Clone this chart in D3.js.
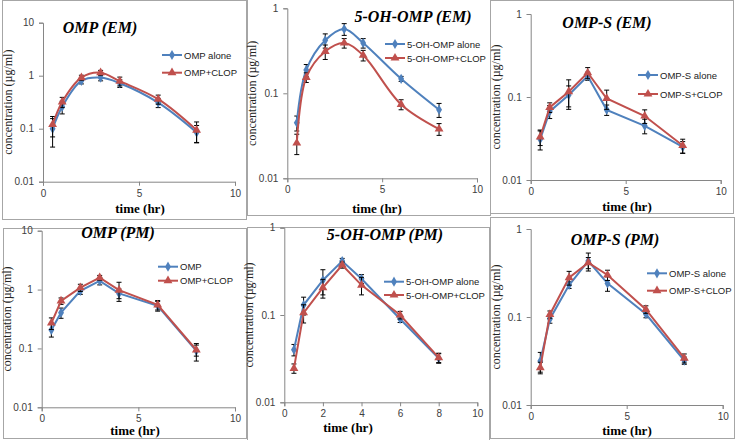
<!DOCTYPE html>
<html>
<head>
<meta charset="utf-8">
<script src="https://cdn.jsdelivr.net/npm/d3@7/dist/d3.min.js"></script>
<style>
  body { margin: 0; background: #fff; }
  svg { display: block; }
</style>
</head>
<body>
<div id="chart"></div>
<script>
// ---------- data (sampling times, hr) ----------
var times = [0.5, 1, 2, 3, 4, 6, 8];

// OMP (EM)
var ompEmAlone = [0.10, 0.26, 0.80, 0.92, 0.72, 0.31, 0.085];
var ompEmAloneErr = [0.055, 0.07, 0.1, 0.12, 0.12, 0.06, 0.03];
var ompEmClop = [0.12, 0.32, 0.92, 1.14, 0.79, 0.36, 0.094];
var ompEmClopErr = [0.05, 0.07, 0.1, 0.12, 0.15, 0.07, 0.04];

// 5-OH-OMP (EM)
var ohEmAlone = [0.045, 0.188, 0.42, 0.57, 0.39, 0.148, 0.064];
var ohEmAloneErr = [0.009, 0.03, 0.08, 0.09, 0.05, 0.01, 0.012];
var ohEmClop = [0.026, 0.154, 0.31, 0.39, 0.28, 0.074, 0.038];
var ohEmClopErr = [0.007, 0.02, 0.06, 0.05, 0.04, 0.01, 0.006];

// OMP-S (EM)
var sEmAlone = [0.031, 0.067, 0.106, 0.179, 0.070, 0.045, 0.025];
var sEmAloneErr = [0.008, 0.012, 0.03, 0.02, 0.01, 0.009, 0.004];
var sEmClop = [0.033, 0.075, 0.116, 0.196, 0.096, 0.059, 0.026];
var sEmClopErr = [0.007, 0.01, 0.045, 0.03, 0.025, 0.011, 0.005];

// OMP (PM)
var ompPmAlone = [0.206, 0.405, 0.95, 1.40, 0.86, 0.53, 0.091];
var ompPmAloneErr = [0.05, 0.08, 0.12, 0.2, 0.16, 0.1, 0.03];
var ompPmClop = [0.27, 0.64, 1.08, 1.59, 0.98, 0.55, 0.094];
var ompPmClopErr = [0.06, 0.08, 0.15, 0.15, 0.35, 0.1, 0.02];

// 5-OH-OMP (PM)
var ohPmAlone = [0.040, 0.13, 0.25, 0.415, 0.26, 0.09, 0.032];
var ohPmAloneErr = [0.006, 0.03, 0.08, 0.03, 0.03, 0.008, 0.004];
var ohPmClop = [0.0245, 0.106, 0.206, 0.374, 0.22, 0.10, 0.0325];
var ohPmClopErr = [0.003, 0.025, 0.05, 0.03, 0.05, 0.01, 0.004];

// OMP-S (PM)
var sPmAlone = [0.0316, 0.095, 0.231, 0.433, 0.241, 0.108, 0.032];
var sPmAloneErr = [0.008, 0.01, 0.02, 0.1, 0.045, 0.01, 0.003];
var sPmClop = [0.0266, 0.107, 0.28, 0.414, 0.30, 0.122, 0.034];
var sPmClopErr = [0.004, 0.01, 0.05, 0.06, 0.04, 0.012, 0.004];

var blue = "#4f81bd", red = "#c0504d";

// ---------- panel layout ----------
var panels = [
  { title: "OMP (EM)", frame: [2, 0, 246, 219], plot: [43, 235, 22.7, 181.7], yTop: 10,
    xTicks: [0, 5, 10], titleX: 100, titleY: 33, legend: [162, 55, 72.7], xLabel: [140, 213], smooth: true,
    names: ["OMP alone", "OMP+CLOP"], a: ompEmAlone, aErr: ompEmAloneErr, b: ompEmClop, bErr: ompEmClopErr },
  { title: "5-OH-OMP (EM)", frame: [247, -1, 490, 215], plot: [287.3, 477, 8.3, 178.3], yTop: 1,
    xTicks: [0, 5, 10], titleX: 413, titleY: 22, legend: [385, 44, 58], xLabel: [377, 213], smooth: true,
    names: ["5-OH-OMP alone", "5-OH-OMP+CLOP"], a: ohEmAlone, aErr: ohEmAloneErr, b: ohEmClop, bErr: ohEmClopErr },
  { title: "OMP-S (EM)", frame: [490, 0, 733, 213], plot: [530.7, 720.7, 14, 180], yTop: 1,
    xTicks: [0, 5, 10], titleX: 607, titleY: 28, legend: [638, 75, 94], xLabel: [627, 211], smooth: false,
    names: ["OMP-S alone", "OMP-S+CLOP"], a: sEmAlone, aErr: sEmAloneErr, b: sEmClop, bErr: sEmClopErr },
  { title: "OMP (PM)", frame: [3, 228, 246, 438], plot: [41.7, 235, 230.7, 407.3], yTop: 10,
    xTicks: [0, 5, 10], titleX: 118, titleY: 238, legend: [158, 266.7, 280.7], xLabel: [135, 435], smooth: false,
    names: ["OMP", "OMP+CLOP"], a: ompPmAlone, aErr: ompPmAloneErr, b: ompPmClop, bErr: ompPmClopErr },
  { title: "5-OH-OMP (PM)", frame: [247, 227, 489, 440], plot: [284.3, 477.3, 227.7, 402.3], yTop: 1,
    xTicks: [0, 2, 4, 6, 8, 10], titleX: 385, titleY: 240, legend: [384, 281.7, 295], xLabel: [348, 432], smooth: false,
    names: ["5-OH-OMP alone", "5-OH-OMP+CLOP"], a: ohPmAlone, aErr: ohPmAloneErr, b: ohPmClop, bErr: ohPmClopErr },
  { title: "OMP-S (PM)", frame: [490, 217, 734, 438], plot: [530.7, 722.7, 229, 405], yTop: 1,
    xTicks: [0, 5, 10], titleX: 615, titleY: 245, legend: [647, 273.3, 290.7], xLabel: [627, 435], smooth: false,
    names: ["OMP-S alone", "OMP-S+CLOP"], a: sPmAlone, aErr: sPmAloneErr, b: sPmClop, bErr: sPmClopErr }
];

var svg = d3.select("#chart").append("svg")
  .attr("width", 739)
  .attr("height", 440);

var tickFont = "'Liberation Sans', Arial, sans-serif";
var serif = "'Liberation Serif', 'Times New Roman', serif";

panels.forEach(function(p) {
  var g = svg.append("g");

  // frame
  g.append("rect")
    .attr("x", p.frame[0] + 0.5).attr("y", p.frame[1] + 0.5)
    .attr("width", p.frame[2] - p.frame[0]).attr("height", p.frame[3] - p.frame[1])
    .attr("fill", "none").attr("stroke", "#a6a6a6").attr("stroke-width", 1);

  var x = d3.scaleLinear().domain([0, 10]).range([p.plot[0], p.plot[1]]);
  var y = d3.scaleLog().domain([0.01, p.yTop]).range([p.plot[3], p.plot[2]]);

  var yTicks = p.yTop == 10 ? [0.01, 0.1, 1, 10] : [0.01, 0.1, 1];

  // y axis
  var ya = g.append("g")
    .attr("transform", "translate(" + p.plot[0] + ",0)")
    .call(d3.axisLeft(y).tickValues(yTicks).tickSize(4).tickPadding(5)
      .tickFormat(function(d) { return d >= 1 ? d3.format("d")(d) : d3.format(".2~f")(d); }));
  // x axis
  var xa = g.append("g")
    .attr("transform", "translate(0," + p.plot[3] + ")")
    .call(d3.axisBottom(x).tickValues(p.xTicks).tickSize(4).tickPadding(4).tickFormat(d3.format("d")));

  [ya, xa].forEach(function(a) {
    a.select(".domain").attr("stroke", "#868686");
    a.selectAll(".tick line").attr("stroke", "#868686");
    a.selectAll("text").style("font-family", tickFont).style("font-size", "10px").attr("fill", "#404040");
  });

  // titles and axis labels
  g.append("text")
    .attr("x", p.titleX).attr("y", p.titleY)
    .attr("text-anchor", "middle")
    .style("font-family", serif).style("font-weight", "bold").style("font-style", "italic")
    .style("font-size", "16px")
    .text(p.title);

  g.append("text")
    .attr("transform", "translate(" + (p.plot[0] - 31) + "," + ((p.plot[2] + p.plot[3]) / 2) + ") rotate(-90)")
    .attr("text-anchor", "middle")
    .style("font-family", serif).style("font-size", "12px").attr("fill", "#222")
    .text("concentration (\u00b5g/ml)");

  g.append("text")
    .attr("x", p.xLabel[0]).attr("y", p.xLabel[1])
    .attr("text-anchor", "middle")
    .style("font-family", serif).style("font-weight", "bold").style("font-size", "13px")
    .text("time (hr)");

  // series
  var line = d3.line()
    .x(function(d) { return x(d[0]); })
    .y(function(d) { return y(d[1]); })
    .curve(p.smooth ? d3.curveCatmullRom.alpha(0.5) : d3.curveLinear);

  var series = [
    { vals: p.a, err: p.aErr, color: blue, sym: d3.symbolDiamond, size: 30 },
    { vals: p.b, err: p.bErr, color: red, sym: d3.symbolTriangle, size: 34 }
  ];

  series.forEach(function(s, si) {
    var pts = times.map(function(t, i) { return [t, s.vals[i], s.err[i]]; });

    // error bars
    var eb = g.append("g").attr("stroke", "#000").attr("stroke-width", 1);
    pts.forEach(function(d) {
      var lo = Math.max(d[1] - d[2], 0.011), hi = d[1] + d[2];
      var cx = x(d[0]);
      eb.append("line").attr("x1", cx).attr("x2", cx).attr("y1", y(lo)).attr("y2", y(hi));
      eb.append("line").attr("x1", cx - 2.5).attr("x2", cx + 2.5).attr("y1", y(lo)).attr("y2", y(lo));
      eb.append("line").attr("x1", cx - 2.5).attr("x2", cx + 2.5).attr("y1", y(hi)).attr("y2", y(hi));
    });

    g.append("path")
      .datum(pts)
      .attr("d", line)
      .attr("fill", "none")
      .attr("stroke", s.color)
      .attr("stroke-width", 2);

    g.selectAll(null)
      .data(pts)
      .enter().append("path")
      .attr("transform", function(d) { return "translate(" + x(d[0]) + "," + y(d[1]) + ")"; })
      .attr("d", d3.symbol().type(s.sym).size(s.size))
      .attr("fill", s.color);

    // legend
    var ly = p.legend[1 + si], lx = p.legend[0];
    g.append("line")
      .attr("x1", lx).attr("x2", lx + 20).attr("y1", ly).attr("y2", ly)
      .attr("stroke", s.color).attr("stroke-width", 2);
    g.append("path")
      .attr("transform", "translate(" + (lx + 10) + "," + ly + ")")
      .attr("d", d3.symbol().type(s.sym).size(s.size))
      .attr("fill", s.color);
    g.append("text")
      .attr("x", lx + 22).attr("y", ly + 3.5)
      .style("font-family", tickFont).style("font-size", "9.5px").attr("fill", "#222")
      .text(p.names[si]);
  });
});
</script>
</body>
</html>
